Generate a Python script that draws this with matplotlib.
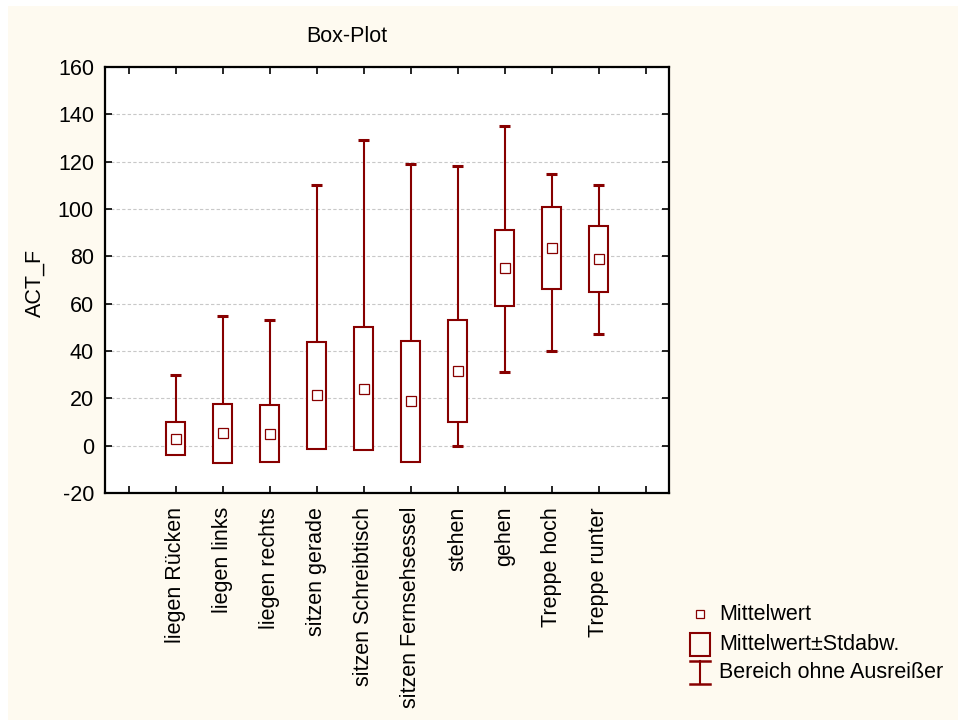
import matplotlib
matplotlib.use("Agg")
import matplotlib.pyplot as plt
from matplotlib.patches import Rectangle

plt.rcParams['font.family'] = ['Liberation Sans', 'DejaVu Sans']

categories = ["liegen Rücken", "liegen links", "liegen rechts", "sitzen gerade",
              "sitzen Schreibtisch", "sitzen Fernsehsessel", "stehen", "gehen",
              "Treppe hoch", "Treppe runter"]
means = [3, 5.3, 5, 21.4, 24, 18.7, 31.5, 75, 83.5, 79]
stdevs = [7, 12.5, 12, 22.6, 26, 25.5, 21.5, 16, 17.5, 14]
range_min = [0, 0, 0, 0, 0, 0, 0, 31, 40, 47]
range_max = [30, 55, 53, 110, 129, 119, 118, 135, 115, 110]

y_ticks = [-20, 0, 20, 40, 60, 80, 100, 120, 140, 160]

dark_red = "#870000"
cream = "#FEFAF0"
fs = 15.5

fig = plt.figure(figsize=(9.58, 7.2), dpi=100, facecolor="white")
fig.patches.append(Rectangle((8 / 958, 0), 1, 1 - 6 / 720, transform=fig.transFigure,
                             facecolor=cream, edgecolor="none", zorder=-10))

ax = fig.add_axes([105 / 958, 1 - 493 / 720, 564 / 958, 426 / 720])
ax.set_facecolor("white")

positions = list(range(1, len(categories) + 1))
box_w = 0.42
cap_w = 0.25
for x, m, s, lo, hi in zip(positions, means, stdevs, range_min, range_max):
    b_lo, b_hi = m - s, m + s
    # upper whisker
    ax.plot([x, x], [b_hi, hi], color=dark_red, lw=1.5, zorder=2, solid_capstyle="butt")
    ax.plot([x - cap_w / 2, x + cap_w / 2], [hi, hi], color=dark_red, lw=2.2, zorder=2,
            solid_capstyle="butt")
    # lower whisker, only when the range reaches below the box
    if lo < b_lo:
        ax.plot([x, x], [lo, b_lo], color=dark_red, lw=1.5, zorder=2, solid_capstyle="butt")
        ax.plot([x - cap_w / 2, x + cap_w / 2], [lo, lo], color=dark_red, lw=2.2, zorder=2,
                solid_capstyle="butt")
    ax.add_patch(Rectangle((x - box_w / 2, b_lo), box_w, 2 * s, facecolor="white",
                           edgecolor=dark_red, lw=1.5, zorder=3))
ax.plot(positions, means, linestyle="none", marker="s", markersize=7,
        markerfacecolor="white", markeredgecolor=dark_red, markeredgewidth=0.9, zorder=4)

ax.set_xlim(-0.5, len(categories) + 1.5)
ax.set_ylim(-20, 160)
ax.set_yticks(y_ticks)
ax.set_yticklabels([str(v) for v in y_ticks], fontsize=fs)
ax.set_xticks(range(0, len(categories) + 2))
ax.set_xticklabels([""] + categories + [""], rotation=90, fontsize=fs)
ax.tick_params(axis="both", direction="in", length=5, width=1.2, top=True, right=True,
               labeltop=False, labelright=False, colors="black", pad=8)
ax.tick_params(axis="x", pad=10)
for sp in ax.spines.values():
    sp.set_linewidth(1.6)
ax.yaxis.grid(True, linestyle=(0, (3, 2)), color="#C8C8C8", linewidth=0.8)
ax.set_axisbelow(True)

fig.text(35 / 958, 1 - 283 / 720, "ACT_F", fontsize=fs, rotation=90, ha="center", va="center")
fig.text(347 / 958, 1 - 37 / 720, "Box-Plot", fontsize=fs, ha="center", va="center")

# legend drawn in figure pixel coordinates
lg = fig.add_axes([0, 0, 1, 1], facecolor="none")
lg.set_xlim(0, 958)
lg.set_ylim(720, 0)
lg.axis("off")
lg.plot([700], [614], marker="s", markersize=6, markerfacecolor="white",
        markeredgecolor=dark_red, markeredgewidth=0.9, linestyle="none")
lg.add_patch(Rectangle((690, 633), 20, 23, facecolor="none", edgecolor=dark_red, lw=1.5))
lg.plot([700, 700], [661, 684], color=dark_red, lw=1.5)
lg.plot([690, 710], [661, 661], color=dark_red, lw=1.8)
lg.plot([690, 710], [684, 684], color=dark_red, lw=1.8)
lg.text(719, 614, "Mittelwert", fontsize=fs, va="center", ha="left")
lg.text(719, 645, "Mittelwert±Stdabw.", fontsize=fs, va="center", ha="left")
lg.text(719, 673, "Bereich ohne Ausreißer", fontsize=fs, va="center", ha="left")

fig.savefig("out.png", dpi=100, facecolor=fig.get_facecolor())
